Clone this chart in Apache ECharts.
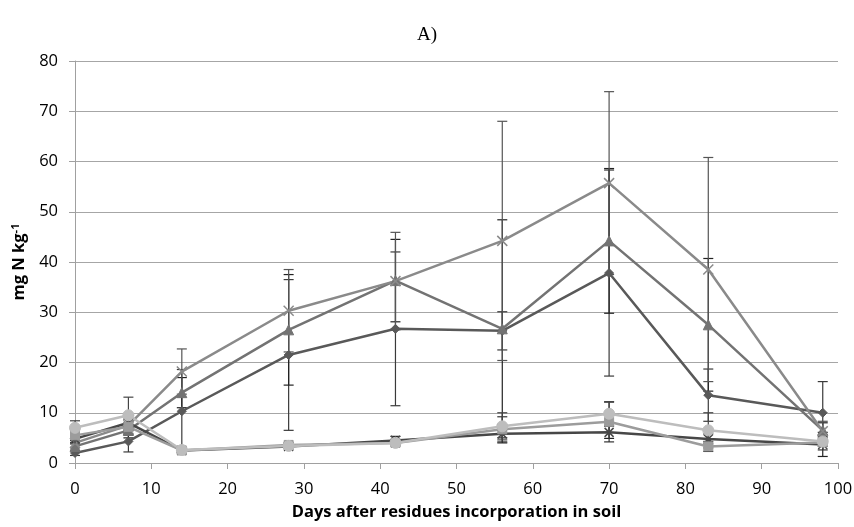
<!DOCTYPE html>
<html><head><meta charset="utf-8">
<script src="https://cdn.jsdelivr.net/npm/echarts@6/dist/echarts.min.js"></script>
<style>html,body{margin:0;padding:0;background:#fff}#c{width:854px;height:527px}</style>
</head><body><div id="c"></div>
<script>
const days = [0, 7, 14, 28, 42, 56, 70, 83, 98];
const xTicks = [0,10,20,30,40,50,60,70,80,90,100];
const yTicks = [0,10,20,30,40,50,60,70,80];
const s1 = [2.0, 4.3, 10.3, 21.5, 26.7, 26.3, 37.8, 13.5, 10.0];
const s2 = [3.3, 6.5, 14.0, 26.5, 36.3, 26.7, 44.2, 27.5, 6.5];
const s3 = [4.0, 7.5, 18.2, 30.3, 36.2, 44.2, 55.7, 38.5, 6.3];
const s4 = [4.8, 8.0, 2.5, 3.3, 4.5, 5.8, 6.1, 4.8, 3.7];
const s5 = [5.5, 7.2, 2.5, 3.6, 4.0, 6.7, 8.2, 3.3, 4.1];
const s6 = [7.0, 9.5, 2.6, 3.4, 4.0, 7.3, 9.8, 6.5, 4.3];
const e1 = [0.5, 2.1, 8.3, 15.0, 15.3, 3.8, 20.5, 5.2, 6.2];
const e2 = [0.8, 1.5, 3.0, 11.0, 8.2, 21.7, 14.4, 13.2, 1.5];
const e3 = [1.0, 2.0, 4.5, 8.2, 9.7, 23.8, 18.2, 22.3, 2.0];
const e4 = [1.0, 1.5, 0.5, 0.5, 0.8, 1.8, 1.2, 1.0, 2.4];
const e5 = [1.0, 1.5, 0.4, 0.4, 0.6, 2.5, 4.0, 1.0, 1.5];
const e6 = [1.4, 3.6, 0.4, 0.4, 0.5, 2.7, 2.3, 3.5, 1.0];

const defs = [
  {name:'S1', d:s1, e:e1, color:'#595959', sym:'diamond', size:9, ec:'#3a3a3a'},
  {name:'S2', d:s2, e:e2, color:'#737373', sym:'triangle', size:10, ec:'#222'},
  {name:'S3', d:s3, e:e3, color:'#8a8a8a', sym:'path://M0,0L10,10M10,0L0,10', size:10, ec:'#555'},
  {name:'S4', d:s4, e:e4, color:'#474747', sym:'path://M0,0L10,10M10,0L0,10M5,0L5,10', size:9, ec:'#222'},
  {name:'S5', d:s5, e:e5, color:'#9c9c9c', sym:'rect', size:9, ec:'#333'},
  {name:'S6', d:s6, e:e6, color:'#bdbdbd', sym:'circle', size:11, ec:'#444'}
];

const series = [];
defs.forEach(df => {
  const data = days.map((x,i)=>[x, df.d[i]]);
  const errData = days.map((x,i)=>[x, df.d[i]-df.e[i], df.d[i]+df.e[i]]);
  series.push({
    type:'custom', name:df.name+'err', z:1,
    data: errData,
    encode:{x:0, y:[1,2]},
    renderItem:(params, api)=>{
      const x = api.value(0);
      const lo = api.coord([x, api.value(1)]);
      const hi = api.coord([x, api.value(2)]);
      const w = 5;
      const st = {stroke: df.ec, lineWidth:1.2};
      return {type:'group', children:[
        {type:'line', shape:{x1:lo[0], y1:lo[1], x2:hi[0], y2:hi[1]}, style:st},
        {type:'line', shape:{x1:lo[0]-w, y1:lo[1], x2:lo[0]+w, y2:lo[1]}, style:st},
        {type:'line', shape:{x1:hi[0]-w, y1:hi[1], x2:hi[0]+w, y2:hi[1]}, style:st}
      ]};
    }
  });
  const isPath = df.sym.startsWith('path');
  series.push({
    type:'line', name:df.name, data:data, z:3,
    symbol: df.sym, symbolSize: df.size,
    lineStyle:{color:df.color, width:2.5},
    itemStyle: isPath ? {color:'none', borderColor:df.color, borderWidth:1.5} : {color:df.color, borderColor:df.color},
    emphasis:{disabled:true}
  });
});

const chart = echarts.init(document.getElementById('c'), null, {renderer:'canvas'});
chart.setOption({
  animation:false,
  backgroundColor:'#fff',
  title:{text:'A)', left:'center', top:21, textStyle:{fontFamily:'Liberation Serif', fontSize:19, fontWeight:'normal', color:'#000'}},
  grid:{left:75, right:16, top:61, bottom:64, containLabel:false, outerBoundsMode:'none'},
  xAxis:{type:'value', min:0, max:100, interval:10,
    name:'Days after residues incorporation in soil', nameLocation:'middle', nameGap:41,
    nameTextStyle:{fontFamily:'Open Sans', fontWeight:'bold', fontSize:16.5, color:'#000'},
    axisLine:{lineStyle:{color:'#a0a0a0', width:1}},
    axisTick:{show:true, length:6, lineStyle:{color:'#a0a0a0'}},
    axisLabel:{fontFamily:'Open Sans', fontSize:16.5, color:'#000', margin:18},
    splitLine:{show:false}},
  yAxis:{type:'value', min:0, max:80, interval:10,
    name:'{b|mg N kg}{s|-1}', nameLocation:'middle', nameGap:46, nameRotate:90,
    nameTextStyle:{rich:{b:{fontFamily:'Open Sans', fontWeight:'bold', fontSize:16.5, color:'#000'}, s:{fontFamily:'Open Sans', fontWeight:'bold', fontSize:11, color:'#000', verticalAlign:'top', padding:[0,0,8,0]}}},
    axisLine:{show:true, lineStyle:{color:'#a0a0a0', width:1}},
    axisTick:{show:true, length:6, lineStyle:{color:'#a0a0a0'}},
    axisLabel:{fontFamily:'Open Sans', fontSize:16.5, color:'#000', margin:17},
    splitLine:{show:true, lineStyle:{color:'#a6a6a6', width:1.2}}},
  series: series
});
</script></body></html>
